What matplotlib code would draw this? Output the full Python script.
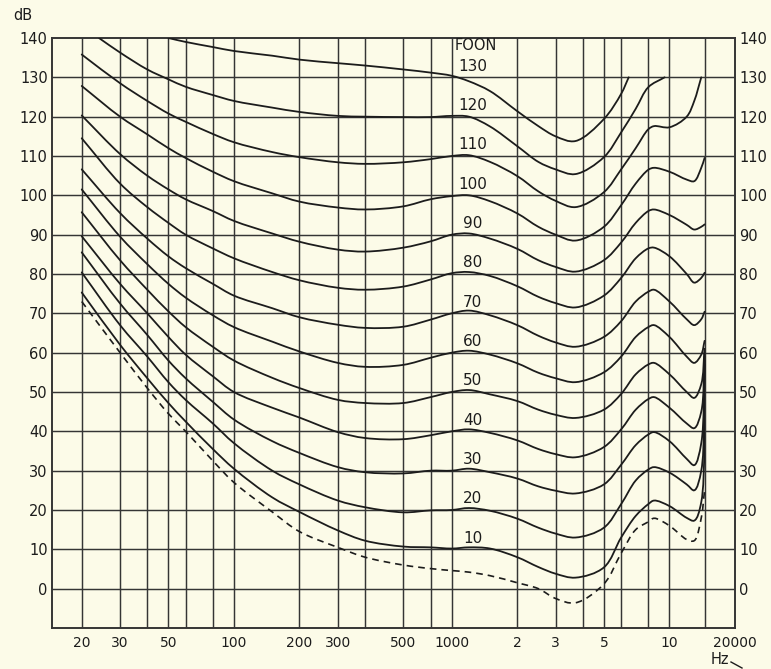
import numpy as np
import matplotlib
matplotlib.use("Agg")
import matplotlib.pyplot as plt
from matplotlib.lines import Line2D
from matplotlib.path import Path
from matplotlib.patches import PathPatch
from matplotlib.ticker import NullLocator

nan = np.nan

freq_hz = [20, 24, 30, 40, 50, 60, 80, 100, 150, 200, 300, 400, 600, 800,
           1000, 1200, 1500, 2000, 2500, 3000, 3700, 5000, 6000, 6500, 7000,
           8000, 8500, 9500, 10000, 12000, 13000, 14000, 14500]

# hearing threshold (dashed)
threshold = [73, nan, 60, 51, 44.5, 40, 32.5, 27, 19.5, 14.5, 10.5, 8, 6, 5.1,
             4.6, 4.2, 3.3, 1.5, 0, -2.5, -3.6, 1.2, 9, nan, 15,
             17, 17.9, nan, 16, 12.5, 12.2, 18, 25]

# equal loudness contours, dB per phon level
phon_10 = [75.3, nan, 62, 53.5, 47.2, 42.5, 35.5, 30.5, 23.2, 19.5, 14.8, 12.2, 10.7, 10.5,
           10.2, 10.5, 10.2, 8, 5.5, 3.8, 2.8, 5.4, 13, nan, 18.5,
           21.5, 22.4, nan, 21, 18, 17.3, 22, 57]
phon_20 = [80.4, nan, 67, 59, 52.5, 48, 42, 37, 30, 26.5, 22.4, 20.7, 19.4, 19.9,
           20, 20.5, 19.8, 17.8, 15.5, 14, 13, 15.5, 21.5, nan, 27.5,
           30.3, 30.9, nan, 29.5, 26.5, 25, 30, 58]
phon_30 = [85.5, nan, 72.5, 64.5, 58, 53.5, 47.5, 43, 37.5, 34.5, 30.9, 29.6, 29.3, 30,
           30, 30.5, 29.6, 28, 26, 24.9, 24.2, 26.5, 31.5, nan, 36.5,
           39.2, 39.8, nan, 37.5, 33, 31.4, 37, 59]
phon_40 = [89.6, nan, 77.5, 70, 64, 59.5, 54, 50, 46, 43.5, 39.8, 38.3, 38, 39,
           40, 40.5, 39.6, 37.7, 35.5, 34.2, 33.4, 36, 40.5, nan, 45.5,
           48.2, 48.7, nan, 46, 42, 40.8, 45, 60]
phon_50 = [95.7, nan, 83.5, 76, 70.5, 66.5, 61.5, 58, 53.6, 51, 48, 47.2, 47.2, 48.7,
           50, 50.5, 49.4, 47.7, 45.5, 44.2, 43.4, 45.5, 49.5, nan, 54.5,
           57, 57.4, nan, 54.5, 50, 48.5, 52, 61]
phon_60 = [101.5, nan, 89.5, 82.5, 77.5, 74, 69.5, 66.5, 62.8, 60.3, 57.4, 56.4, 56.9, 58.7,
           60, 60.5, 59.5, 57.3, 54.9, 53.5, 52.5, 55, 59, nan, 64,
           66.5, 67, nan, 64, 59, 57.4, 59.5, 63]
phon_70 = [106.6, nan, 95.5, 89, 84.5, 81.5, 77.5, 74.5, 71.3, 69, 67.1, 66.3, 66.6, 68.4,
           70, 70.7, 69.5, 67, 64.3, 62.6, 61.5, 64, 68, nan, 73,
           75.5, 76, nan, 73, 68.5, 67, 68.5, 70.4]
phon_80 = [114.5, nan, 103, 97, 93, 90, 86.5, 84, 80.5, 78.4, 76.5, 76, 76.8, 78.6,
           80.2, 80.5, 79.5, 76.9, 74.2, 72.6, 71.5, 74.5, 79, nan, 84,
           86.5, 86.7, nan, 84.5, 80, 77.8, 79, 80.3]
phon_90 = [120.3, nan, 110.5, 105, 101.5, 99, 96, 93.5, 90.3, 88.2, 86.2, 85.7, 86.7, 88.3,
           90, 90.3, 89, 86.4, 83.5, 81.8, 80.6, 83.5, 88, nan, 93,
           96, 96.4, nan, 95, 92.5, 91.3, 92, 92.6]
phon_100 = [127.8, nan, 120, 115.5, 112, 109.5, 106, 103.6, 100.5, 98.4, 96.9, 96.4, 97.2, 99,
            99.8, 100, 98.5, 95.4, 92, 90, 88.5, 92, 97.5, nan, 103,
            106.5, 107, nan, 106, 104, 103.6, 107, 109.5]
phon_110 = [135.8, nan, 128.5, 124, 120.8, 118.7, 115.6, 113.5, 111, 109.7, 108.4, 108, 108.4, 109.2,
            110, 110.2, 108.5, 104.9, 101, 98.6, 97, 100.8, 106.6, nan, 112,
            116.8, 117.6, nan, 117.3, 120, 124, 130, nan]
phon_120 = [nan, 140, 136.3, 132, 129.5, 127.6, 125.5, 124, 122.3, 121.2, 120.2, 120, 119.9, 119.9,
            120.2, 120, 117.5, 112.5, 108.5, 106.6, 105.4, 109.7, 116, nan, 122,
            127.5, nan, 130, nan, nan, nan, nan, nan]
phon_130 = [nan, nan, nan, nan, 140, 139, 137.7, 136.7, 135.5, 134.5, 133.6, 133, 132, 131.2,
            130.4, 129, 126.5, 121.4, 117.6, 115, 113.8, 119.4, 125.8, 130, nan,
            nan, nan, nan, nan, nan, nan, nan, nan]

phon_levels = [10, 20, 30, 40, 50, 60, 70, 80, 90, 100, 110, 120, 130]
contours = [phon_10, phon_20, phon_30, phon_40, phon_50, phon_60, phon_70,
            phon_80, phon_90, phon_100, phon_110, phon_120, phon_130]

# grid lines as printed on the chart
grid_hz = [20, 30, 40, 50, 60, 80, 100, 200, 300, 400, 600, 800, 1000,
           2000, 3000, 4000, 5000, 6000, 8000, 10000, 14500]
grid_db = list(range(0, 140, 10))

tick_hz = [20, 30, 50, 100, 200, 300, 600, 1000, 2000, 3000, 5000, 10000, 20000]
tick_labels = ["20", "30", "50", "100", "200", "300", "500", "1000",
               "2", "3", "5", "10", "20000"]
db_ticks = list(range(0, 141, 10))

bg = "#fcfbe8"
ink = "#1c1c1c"
grid_c = "#353535"


def smooth_path(f, db):
    # centripetal catmull-rom through the read points, drawn as bezier segments
    # (worked out in roughly square log-f / dB space, then handed back in data units)
    sx, sy = 218.0, 3.93
    P = np.column_stack([np.log10(f) * sx, db * sy])
    ext = np.vstack([2 * P[0] - P[1], P, 2 * P[-1] - P[-2]])
    verts = [P[0]]
    codes = [Path.MOVETO]
    for i in range(len(P) - 1):
        p0, p1, p2, p3 = ext[i], ext[i + 1], ext[i + 2], ext[i + 3]
        d1 = np.linalg.norm(p1 - p0) ** 0.5
        d2 = np.linalg.norm(p2 - p1) ** 0.5
        d3 = np.linalg.norm(p3 - p2) ** 0.5
        b1 = (d1**2 * p2 - d2**2 * p0 + (2 * d1**2 + 3 * d1 * d2 + d2**2) * p1) / (3 * d1 * (d1 + d2))
        b2 = (d3**2 * p1 - d2**2 * p3 + (2 * d3**2 + 3 * d3 * d2 + d2**2) * p2) / (3 * d3 * (d3 + d2))
        verts += [b1, b2, p2]
        codes += [Path.CURVE4] * 3
    V = np.array(verts)
    V[:, 0] = 10 ** (V[:, 0] / sx)
    V[:, 1] = V[:, 1] / sy
    return Path(V, codes)


fig = plt.figure(figsize=(7.71, 6.69), dpi=100, facecolor=bg)
ax = fig.add_axes([0.0674, 0.0613, 0.8859, 0.8819])
ax.set_facecolor(bg)
ax.set_xscale("log")
ax.set_xlim(14.6, 20000)
ax.set_ylim(-10, 140)

for f in grid_hz:
    ax.axvline(f, color=grid_c, lw=1.05, zorder=1)
for d in grid_db:
    ax.axhline(d, color=grid_c, lw=1.05, zorder=1)

freq = np.array(freq_hz, dtype=float)
levels = np.array(contours, dtype=float)
for row in levels:
    ok = np.isfinite(row)
    ax.add_patch(PathPatch(smooth_path(freq[ok], row[ok]), fill=False,
                           edgecolor=ink, lw=1.3, zorder=3, capstyle="round"))

thr = np.array(threshold, dtype=float)
ok = np.isfinite(thr)
ax.add_patch(PathPatch(smooth_path(freq[ok], thr[ok]), fill=False,
                       edgecolor=ink, lw=1.2, ls=(0, (4, 3)), zorder=3))

# phon labels
for p in phon_levels:
    ax.text(1250, p + 2.8, str(p), fontsize=11, color=ink, ha="center", va="center",
            zorder=4)
ax.text(1030, 138, "FOON", fontsize=10.5, color=ink, ha="left", va="center", zorder=4)

ax.set_xticks(tick_hz)
ax.set_xticklabels(tick_labels)
ax.xaxis.set_minor_locator(NullLocator())
ax.set_yticks(db_ticks)
ax.set_yticklabels([str(v) for v in db_ticks])
ax.tick_params(axis="x", length=0, pad=6, labelsize=10, colors=ink)
ax.tick_params(axis="y", length=0, pad=3, labelsize=10.5, colors=ink,
               labelleft=True, labelright=True)

for s in ax.spines.values():
    s.set_color(grid_c)
    s.set_linewidth(1.4)

fig.text(23 / 771, 1 - 16 / 669, "dB", fontsize=10.5, color=ink, ha="center", va="center")
fig.text(720 / 771, 1 - 660 / 669, "Hz", fontsize=10.5, color=ink, ha="center", va="center")
fig.add_artist(Line2D([731 / 771, 742 / 771], [1 - 662 / 669, 1 - 668 / 669],
                      color=ink, lw=1.0))

fig.savefig("out.png", dpi=100, facecolor=bg)
